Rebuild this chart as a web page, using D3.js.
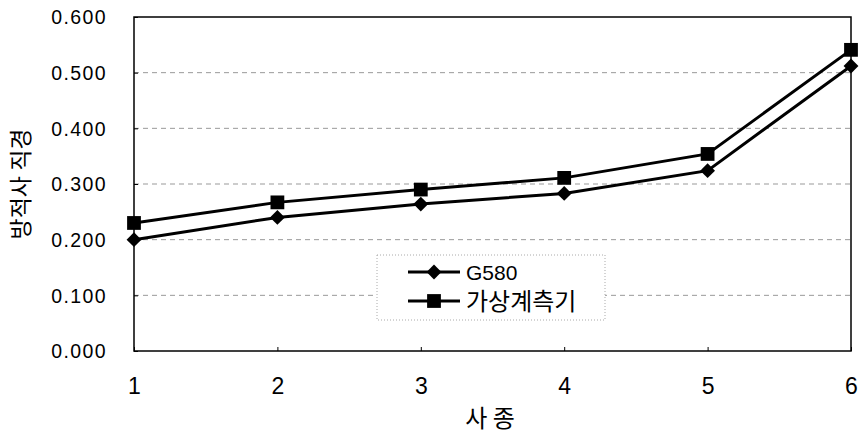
<!DOCTYPE html>
<html>
<head>
<meta charset="utf-8">
<script src="https://cdn.jsdelivr.net/npm/d3@7/dist/d3.min.js"></script>
<style>
  html, body { margin: 0; padding: 0; background: #fff; }
  svg { display: block; }
  text { font-family: "Liberation Sans", Arial, sans-serif; fill: #000; }
  .kr { font-family: "Noto Sans CJK KR", sans-serif; }
</style>
</head>
<body>
<svg id="chart" width="860" height="433"></svg>
<script>
// Yarn type on the x axis, measured diameter on the y axis
const categories = [1, 2, 3, 4, 5, 6];
const g580 = [0.200, 0.240, 0.264, 0.283, 0.324, 0.512];
const virtualGauge = [0.230, 0.267, 0.290, 0.311, 0.354, 0.541];
const yTicks = [0, 0.1, 0.2, 0.3, 0.4, 0.5, 0.6];
const seriesNames = ["G580", "가상계측기"];
const xTitle = "사 종";
const yTitle = "방적사 직경";

const svg = d3.select("#chart");
const margin = { left: 134, right: 9, top: 17, bottom: 82 };
const W = 860, H = 433;

const x = d3.scaleLinear().domain([1, 6]).range([margin.left, W - margin.right]);
const y = d3.scaleLinear().domain([0, 0.6]).range([H - margin.bottom, margin.top]);

// dashed gridlines
svg.append("g").selectAll("line")
  .data(yTicks.filter(v => v > 0 && v < 0.6))
  .join("line")
  .attr("x1", x(1)).attr("x2", x(6))
  .attr("y1", d => y(d)).attr("y2", d => y(d))
  .attr("stroke", "#999").attr("stroke-width", 1)
  .attr("stroke-dasharray", "5,4");

// plot frame
svg.append("rect")
  .attr("x", x(1)).attr("y", y(0.6))
  .attr("width", x(6) - x(1)).attr("height", y(0) - y(0.6))
  .attr("fill", "none").attr("stroke", "#000").attr("stroke-width", 1.5);

// y axis
const yAxis = d3.axisLeft(y).tickValues(yTicks).tickFormat(d3.format(".3f"))
  .tickSizeInner(-4).tickSizeOuter(0).tickPadding(27);
const gy = svg.append("g").attr("transform", `translate(${x(1)},0)`).call(yAxis);
gy.select(".domain").remove();
gy.selectAll("text")
  .attr("font-size", 19.5)
  .attr("letter-spacing", 1.4)
  .attr("dy", "0.35em")
  .style("font-family", "'Liberation Sans', Arial, sans-serif");
gy.selectAll("line").attr("stroke", "#000");

// x axis
const xAxis = d3.axisBottom(x).tickValues(categories).tickFormat(d3.format("d"))
  .tickSizeInner(-4).tickSizeOuter(0).tickPadding(27);
const gx = svg.append("g").attr("transform", `translate(0,${y(0)})`).call(xAxis);
gx.select(".domain").remove();
gx.selectAll("text")
  .attr("font-size", 23)
  .style("font-family", "'Liberation Sans', Arial, sans-serif");
gx.selectAll("line").attr("stroke", "#000");

// axis titles
svg.append("text").attr("class", "kr")
  .attr("x", 490).attr("y", 427)
  .attr("text-anchor", "middle").attr("font-size", 24)
  .text(xTitle);
svg.append("text").attr("class", "kr")
  .attr("transform", `translate(29,${(y(0) + y(0.6)) / 2}) rotate(-90)`)
  .attr("text-anchor", "middle").attr("font-size", 23)
  .text(yTitle);

const line = d3.line().x((d, i) => x(categories[i])).y(d => y(d));
const diamond = d3.symbol().type(d3.symbolDiamond2).size(140);
const square = d3.symbol().type(d3.symbolSquare).size(190);

function drawSeries(values, sym) {
  svg.append("path").datum(values)
    .attr("d", line).attr("fill", "none")
    .attr("stroke", "#000").attr("stroke-width", 3);
  svg.append("g").selectAll("path").data(values).join("path")
    .attr("d", sym)
    .attr("transform", (d, i) => `translate(${x(categories[i])},${y(d)})`)
    .attr("fill", "#000");
}
drawSeries(g580, diamond);
drawSeries(virtualGauge, square);

// legend
const lg = svg.append("g").attr("transform", "translate(377,255)");
lg.append("rect").attr("width", 228).attr("height", 65)
  .attr("fill", "#fff").attr("stroke", "#aaa").attr("stroke-width", 1)
  .attr("stroke-dasharray", "1,2");
const syms = [diamond, square];
seriesNames.forEach((name, i) => {
  const cy = 17 + i * 29;
  lg.append("line").attr("x1", 31).attr("x2", 83).attr("y1", cy).attr("y2", cy)
    .attr("stroke", "#000").attr("stroke-width", 3);
  lg.append("path").attr("d", syms[i]).attr("transform", `translate(57,${cy})`).attr("fill", "#000");
  lg.append("text").attr("class", i === 1 ? "kr" : null)
    .attr("x", 89).attr("y", cy + (i === 0 ? 8 : 9))
    .attr("font-size", i === 0 ? 21 : 24)
    .style("font-family", i === 0 ? "'Liberation Sans', Arial, sans-serif" : null)
    .text(name);
});
</script>
</body>
</html>
